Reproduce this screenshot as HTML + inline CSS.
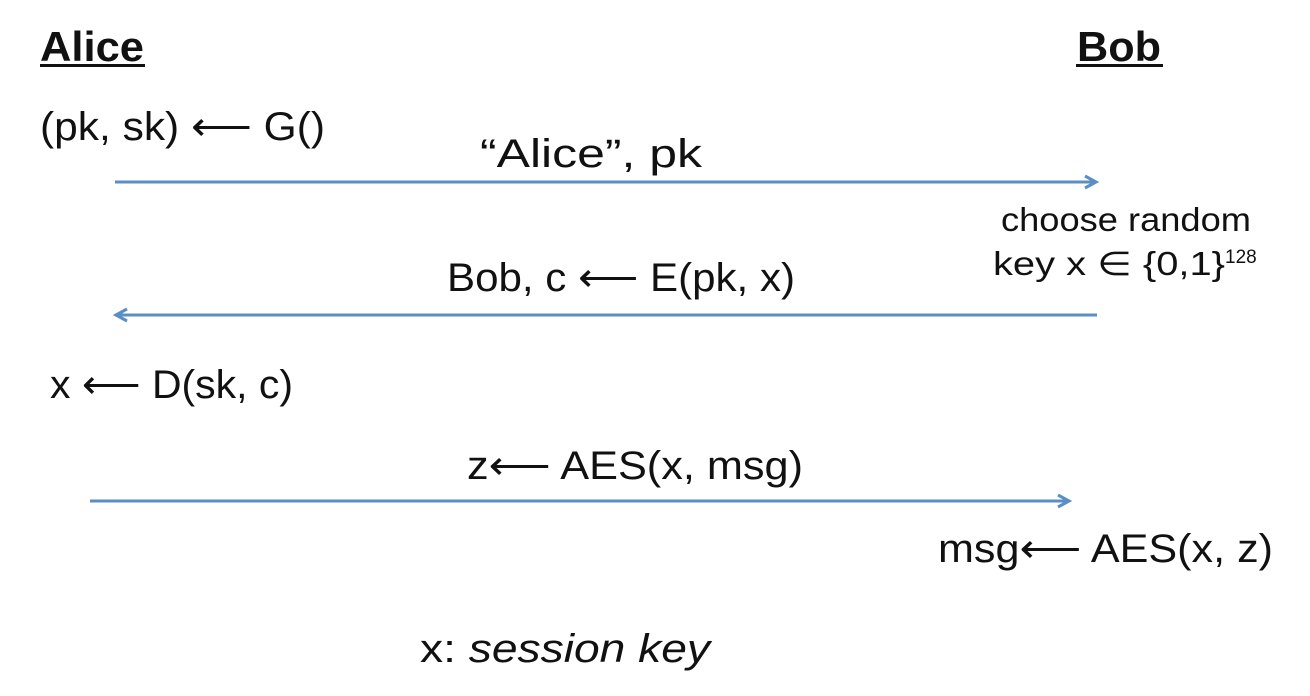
<!DOCTYPE html>
<html><head><meta charset="utf-8"><style>
html,body{margin:0;padding:0;background:#fff;}
svg{display:block;}
text{font-family:"Liberation Sans",Arial,sans-serif;fill:#111;}
</style></head><body>
<svg width="1310" height="696" viewBox="0 0 1310 696">
<defs>
<marker id="ah" markerWidth="16" markerHeight="16" refX="13" refY="8" orient="auto" markerUnits="userSpaceOnUse">
<path d="M2,2 L13,8 L2,14" fill="none" stroke="#5b8ec4" stroke-width="3"/>
</marker>
</defs>
<text x="40" y="61" font-size="42" font-weight="bold" textLength="104" lengthAdjust="spacingAndGlyphs">Alice</text>
<rect x="40" y="64" width="105" height="3" fill="#111"/>
<text x="1077" y="61" font-size="42" font-weight="bold" textLength="84" lengthAdjust="spacingAndGlyphs">Bob</text>
<rect x="1076" y="64" width="87" height="3" fill="#111"/>
<text x="40" y="140" font-size="40" textLength="285" lengthAdjust="spacingAndGlyphs">(pk, sk) ⟵ G()</text>
<text x="480" y="167" font-size="40" textLength="222" lengthAdjust="spacingAndGlyphs">“Alice”,   pk</text>
<line x1="115" y1="182" x2="1096" y2="182" stroke="#5b8ec4" stroke-width="3" marker-end="url(#ah)"/>
<text x="1001" y="231" font-size="33" textLength="250" lengthAdjust="spacingAndGlyphs">choose random</text>
<text x="993" y="275" font-size="33"><tspan textLength="232" lengthAdjust="spacingAndGlyphs">key  x ∈ {0,1}</tspan><tspan font-size="19" dy="-12">128</tspan></text>
<text x="447" y="291" font-size="40" textLength="348" lengthAdjust="spacingAndGlyphs">Bob, c ⟵ E(pk, x)</text>
<line x1="1097" y1="315" x2="116" y2="315" stroke="#5b8ec4" stroke-width="3" marker-end="url(#ah)"/>
<text x="50" y="398" font-size="40" textLength="243" lengthAdjust="spacingAndGlyphs">x ⟵ D(sk, c)</text>
<text x="467" y="479" font-size="40" textLength="336" lengthAdjust="spacingAndGlyphs">z⟵  AES(x, msg)</text>
<line x1="90" y1="501" x2="1069" y2="501" stroke="#5b8ec4" stroke-width="3" marker-end="url(#ah)"/>
<text x="938" y="562" font-size="40" textLength="335" lengthAdjust="spacingAndGlyphs">msg⟵  AES(x, z)</text>
<text x="420" y="662" font-size="40" textLength="290" lengthAdjust="spacingAndGlyphs">x:  <tspan font-style="italic">session key</tspan></text>
</svg>
</body></html>
